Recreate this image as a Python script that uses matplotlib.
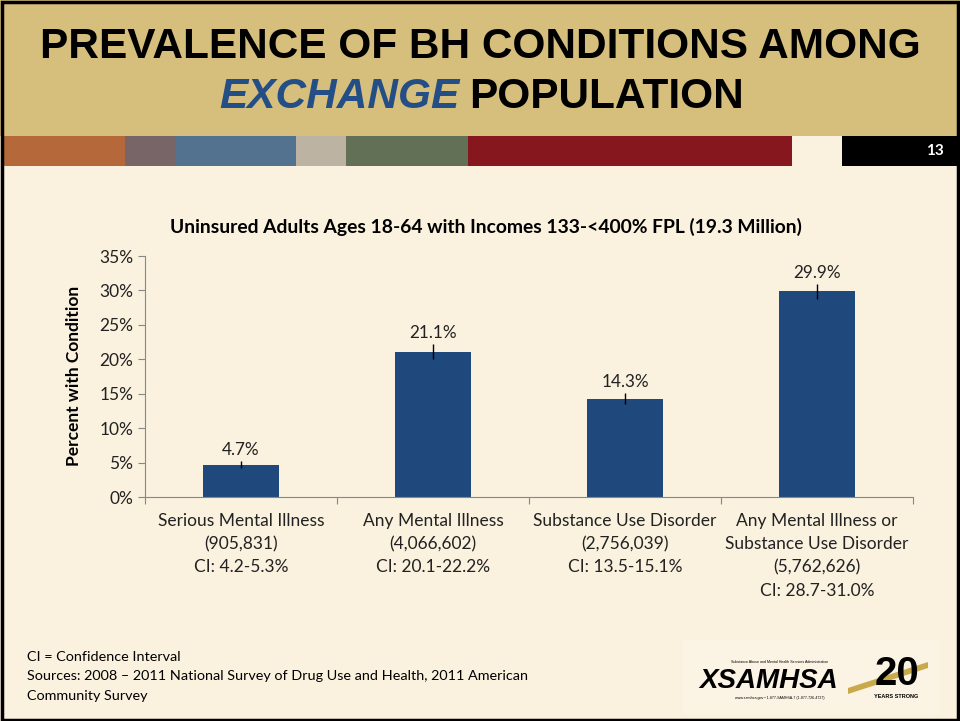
import numpy as np
import matplotlib.pyplot as plt
from matplotlib.patches import Rectangle, Polygon
import matplotlib.transforms as mtransforms

# data
categories = ["Serious Mental Illness", "Any Mental Illness", "Substance Use Disorder",
              "Any Mental Illness or\nSubstance Use Disorder"]
counts = ["(905,831)", "(4,066,602)", "(2,756,039)", "(5,762,626)"]
ci_text = ["CI: 4.2-5.3%", "CI: 20.1-22.2%", "CI: 13.5-15.1%", "CI: 28.7-31.0%"]
values = [4.7, 21.1, 14.3, 29.9]
ci_low = [4.2, 20.1, 13.5, 28.7]
ci_high = [5.3, 22.2, 15.1, 31.0]
yticks = [0, 5, 10, 15, 20, 25, 30, 35]

stripe_edges = [4, 125, 175, 296, 346, 468, 792]
stripe_colors = ["#B5693A", "#786568", "#53728F", "#BDB3A2", "#627055", "#86171E"]

W, H = 960, 721
cream = "#FAF1DF"
tan = "#D6BE7C"
bar_col = "#1F497D"
body_font = "Lato"

fig = plt.figure(figsize=(9.6, 7.21), dpi=100)
fig.patch.set_facecolor(cream)


def fx(x):
    return x / W


def fy(y):
    return 1 - y / H


def box(x0, y0, x1, y1, color):
    fig.patches.append(Rectangle((fx(x0), fy(y1)), fx(x1) - fx(x0), fy(y0) - fy(y1),
                                 transform=fig.transFigure, facecolor=color,
                                 edgecolor="none", zorder=0))


# header band and coloured stripe
box(0, 0, W, 136, tan)
for i in range(len(stripe_colors)):
    box(stripe_edges[i], 136, stripe_edges[i + 1], 166, stripe_colors[i])
box(842, 136, W, 166, "black")
fig.text(fx(935), fy(151), "13", color="white", fontsize=11, fontweight="bold",
         family=body_font, ha="center", va="center")

# slide border
fig.patches.append(Rectangle((0.002, 0.002), 0.996, 0.995, transform=fig.transFigure,
                             facecolor="none", edgecolor="black", lw=2.5, zorder=5))

fig.text(fx(480), fy(47), "PREVALENCE OF BH CONDITIONS AMONG", fontsize=30.5,
         fontweight="bold", family="Liberation Sans", ha="center", va="center")
fig.text(fx(459), fy(97), "EXCHANGE", fontsize=30.5, fontweight="bold", style="italic",
         color="#234F86", family="Liberation Sans", ha="right", va="center")
fig.text(fx(469), fy(97), "POPULATION", fontsize=30.5, fontweight="bold",
         family="Liberation Sans", ha="left", va="center")

# chart
ax = fig.add_axes([fx(145), fy(497), fx(913) - fx(145), fy(256) - fy(497)])
ax.set_facecolor(cream)
x = np.arange(len(values))
ax.bar(x, values, width=0.4, color=bar_col, zorder=2)
err = [np.array(values) - np.array(ci_low), np.array(ci_high) - np.array(values)]
ax.errorbar(x, values, yerr=err, fmt="none", ecolor="black", elinewidth=1, capsize=0, zorder=3)
for i in range(len(values)):
    ax.annotate("%.1f%%" % values[i], (x[i], ci_high[i]), xytext=(0, 2),
                textcoords="offset points", ha="center", va="bottom",
                fontsize=12.3, family=body_font, color="#222222")

ax.set_xlim(-0.5, len(values) - 0.5)
ax.set_ylim(0, 35)
ax.set_yticks(yticks)
ax.set_yticklabels(["%d%%" % t for t in yticks], fontsize=12.5, family=body_font)
ax.set_xticks(np.arange(len(values) + 1) - 0.5)
ax.set_xticklabels([])
ax.tick_params(axis="both", colors="#888888", labelcolor="#222222", length=5, direction="out")
for s in ["top", "right"]:
    ax.spines[s].set_visible(False)
for s in ["left", "bottom"]:
    ax.spines[s].set_color("#888888")

trans = mtransforms.blended_transform_factory(ax.transData, fig.transFigure)
for i in range(len(values)):
    lab = categories[i] + "\n" + counts[i] + "\n" + ci_text[i]
    ax.text(x[i], fy(513), lab, transform=trans, ha="center", va="top", fontsize=12.5,
            family=body_font, linespacing=1.55, color="#222222")

ax.set_ylabel("Percent with Condition", fontsize=12.5, fontweight="bold", family=body_font)
ax.yaxis.set_label_coords(fx(82), fy(376), transform=fig.transFigure)

fig.text(fx(486), fy(227), "Uninsured Adults Ages 18-64 with Incomes 133-<400% FPL (19.3 Million)",
         fontsize=13.9, fontweight="bold", family=body_font, ha="center", va="center")

# footnotes
foot = ["CI = Confidence Interval",
        "Sources: 2008 \u2013 2011 National Survey of Drug Use and Health, 2011 American",
        "Community Survey"]
for i, line in enumerate(foot):
    fig.text(fx(27), fy(657 + 19.5 * i), line, fontsize=10.4, family=body_font,
             ha="left", va="center")

# logo, drawn as text
box(683, 640, 940, 714, "#FBF3E3")
fig.text(fx(780), fy(662), "Substance Abuse and Mental Health Services Administration",
         fontsize=2.6, family="Liberation Sans", ha="center", va="center")
fig.text(fx(699), fy(681), "\u03a7SAMHSA", fontsize=20, fontweight="heavy", style="italic",
         family="Liberation Sans", ha="left", va="center")
fig.text(fx(780), fy(698), "www.samhsa.gov \u2022 1-877-SAMHSA-7 (1-877-726-4727)",
         fontsize=2.6, family="Liberation Sans", ha="center", va="center")
ribbon = [(fx(848), fy(688)), (fx(928), fy(662)), (fx(928), fy(668)), (fx(848), fy(694))]
fig.patches.append(Polygon(ribbon, closed=True, transform=fig.transFigure,
                           facecolor="#C9A94A", edgecolor="none", zorder=1))
fig.text(fx(897), fy(674), "20", fontsize=29, fontweight="heavy", family="Liberation Sans",
         ha="center", va="center", zorder=2)
fig.text(fx(896), fy(697), "YEARS STRONG", fontsize=4, fontweight="bold", family="Liberation Sans",
         ha="center", va="center")

fig.savefig("out.png", dpi=100, facecolor=fig.get_facecolor())
